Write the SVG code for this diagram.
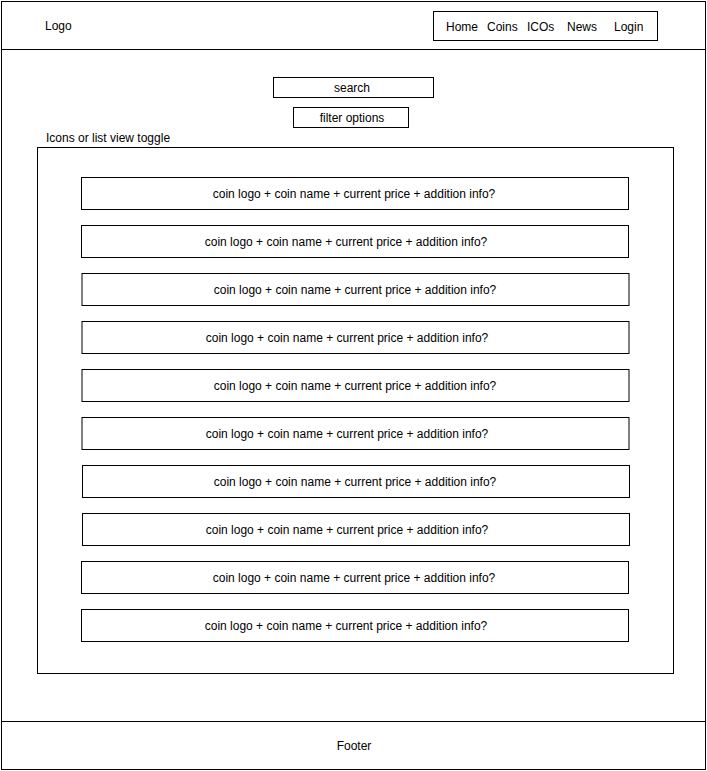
<svg xmlns="http://www.w3.org/2000/svg" width="707" height="771" viewBox="0 0 707 771">
<style>
.b{fill:#fff;stroke:#000;stroke-width:1}
.t{font-family:"Liberation Sans",Arial,sans-serif;font-size:12px;fill:#000}
.m{text-anchor:middle}
</style>
<rect width="707" height="771" fill="#fff"/>
<g id="page">
<rect class="b" x="1.5" y="1.5" width="704" height="768"/>
<line x1="1.5" y1="49.5" x2="705.5" y2="49.5" stroke="#000"/>
<line x1="1.5" y1="721.5" x2="705.5" y2="721.5" stroke="#000"/>
</g>
<g id="logo"><text class="t" x="45" y="30">Logo</text></g>
<g id="nav">
<rect class="b" x="433.5" y="11.5" width="224" height="29"/>
<text class="t" x="446" y="31">Home</text>
<text class="t" x="487" y="31">Coins</text>
<text class="t" x="527" y="31">ICOs</text>
<text class="t" x="567" y="31">News</text>
<text class="t" x="614" y="31">Login</text>
</g>
<g id="search"><rect class="b" x="273.5" y="77.5" width="160" height="20"/><text class="t m" x="352" y="91.5">search</text></g>
<g id="filter"><rect class="b" x="293.5" y="107.5" width="115" height="20"/><text class="t m" x="352" y="121.5">filter options</text></g>
<g id="toggle"><text class="t" x="46" y="142">Icons or list view toggle</text></g>
<g id="list"><rect class="b" x="37.5" y="147.5" width="636" height="526"/></g>
<g id="row1"><rect class="b" x="81.5" y="177.5" width="547" height="32"/><text class="t m" x="354" y="197.5">coin logo + coin name + current price + addition info?</text></g>
<g id="row2"><rect class="b" x="81.5" y="225.5" width="547" height="32"/><text class="t m" x="346" y="245.5">coin logo + coin name + current price + addition info?</text></g>
<g id="row3"><rect class="b" x="82" y="273.5" width="547" height="32"/><text class="t m" x="355" y="293.5">coin logo + coin name + current price + addition info?</text></g>
<g id="row4"><rect class="b" x="82" y="321.5" width="547" height="32"/><text class="t m" x="347" y="341.5">coin logo + coin name + current price + addition info?</text></g>
<g id="row5"><rect class="b" x="82" y="369.5" width="547" height="32"/><text class="t m" x="355" y="389.5">coin logo + coin name + current price + addition info?</text></g>
<g id="row6"><rect class="b" x="82" y="417.5" width="547" height="32"/><text class="t m" x="347" y="437.5">coin logo + coin name + current price + addition info?</text></g>
<g id="row7"><rect class="b" x="82.5" y="465.5" width="547" height="32"/><text class="t m" x="355" y="485.5">coin logo + coin name + current price + addition info?</text></g>
<g id="row8"><rect class="b" x="82.5" y="513.5" width="547" height="32"/><text class="t m" x="347" y="533.5">coin logo + coin name + current price + addition info?</text></g>
<g id="row9"><rect class="b" x="81.5" y="561.5" width="547" height="32"/><text class="t m" x="354" y="581.5">coin logo + coin name + current price + addition info?</text></g>
<g id="row10"><rect class="b" x="81.5" y="609.5" width="547" height="32"/><text class="t m" x="346" y="629.5">coin logo + coin name + current price + addition info?</text></g>
<g id="footer"><text class="t m" x="354" y="749.5">Footer</text></g>
<g id="connectors"/>
</svg>
